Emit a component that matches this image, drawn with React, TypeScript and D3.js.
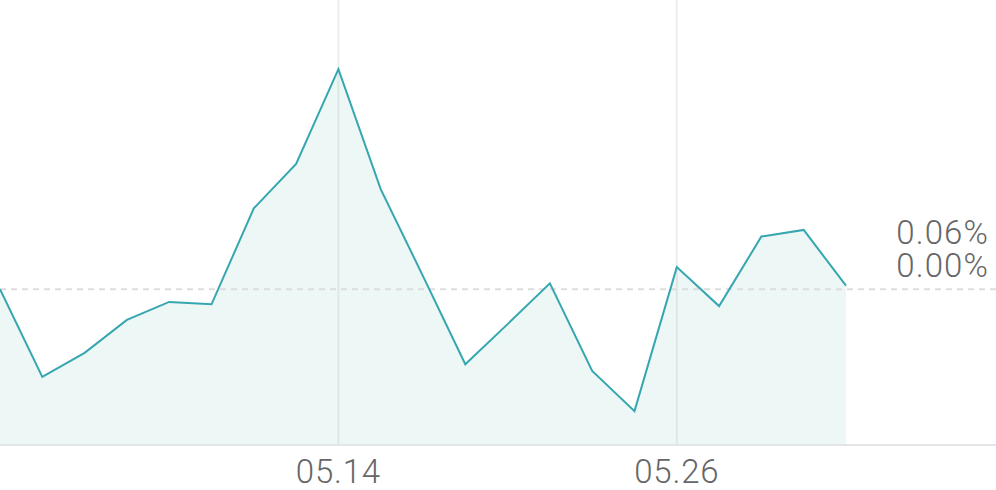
import React, { useEffect, useRef } from "react";
import * as d3 from "d3";

const dates = ["04.30","05.06","05.07","05.08","05.11","05.12","05.13","05.14","05.15","05.18","05.19","05.20","05.21","05.22","05.25","05.26","05.27","05.28","05.29","06.01","06.02"];
const categories = dates.map((_, i) => i);
const returns = [0, -1.46, -1.06, -0.51, -0.21, -0.25, 1.35, 2.09, 3.67, 1.67, 0.22, -1.25, -0.58, 0.1, -1.36, -2.03, 0.37, -0.28, 0.88, 0.99, 0.06];
const tickIndices = [8, 16];
const tickLabels = ["05.14", "05.26"];
const rightLabels = ["0.06%", "0.00%"];

const W = 996;
const H = 490;

export default function App() {
  const ref = useRef<SVGSVGElement>(null);
  useEffect(() => {
    const svg = d3.select(ref.current);
    svg.selectAll("*").remove();
    const x = d3.scaleLinear().domain([0, categories.length - 1]).range([0, 846]);
    const y = d3.scaleLinear().domain([-2.595, 4.822]).range([445, 0]);
    const font = "Roboto, 'Noto Sans', sans-serif";

    // vertical grid lines
    svg.selectAll(".grid").data(tickIndices).enter().append("line")
      .attr("x1", d => x(d)).attr("x2", d => x(d))
      .attr("y1", 0).attr("y2", 445)
      .attr("stroke", "#eeeeee").attr("stroke-width", 2);

    const area = d3.area<number>().x((_, i) => x(i)).y0(445).y1(d => y(d));
    svg.append("path").datum(returns).attr("d", area)
      .attr("fill", "#2aa198").attr("fill-opacity", 0.09);

    // zero dashed line
    svg.append("line").attr("x1", 0).attr("x2", W)
      .attr("y1", y(0)).attr("y2", y(0))
      .attr("stroke", "#dddddd").attr("stroke-width", 2).attr("stroke-dasharray", "6,5");

    const line = d3.line<number>().x((_, i) => x(i)).y(d => y(d));
    svg.append("path").datum(returns).attr("d", line)
      .attr("fill", "none").attr("stroke", "#36a6b0").attr("stroke-width", 2).attr("stroke-linejoin", "miter");

    // x axis line
    svg.append("line").attr("x1", 0).attr("x2", W).attr("y1", 445).attr("y2", 445)
      .attr("stroke", "#e3e6e6").attr("stroke-width", 2);

    svg.selectAll(".tick").data(tickIndices).enter().append("text")
      .attr("x", d => x(d)).attr("y", 482.5)
      .attr("text-anchor", "middle")
      .attr("font-family", font).attr("font-size", 33).attr("font-weight", 300)
      .attr("letter-spacing", 0.8)
      .attr("fill", "#666666")
      .text((_, i) => tickLabels[i]);

    svg.selectAll(".rl").data(rightLabels).enter().append("text")
      .attr("x", 989).attr("y", (_, i) => (i === 0 ? 243.5 : 276.5))
      .attr("text-anchor", "end")
      .attr("font-family", font).attr("font-size", 33).attr("font-weight", 300)
      .attr("letter-spacing", 1.1)
      .attr("fill", "#666666")
      .text(d => d);
  }, []);
  return (
    <div style={{ position: "fixed", left: 0, top: 0 }}>
      <svg ref={ref} width={W} height={H} style={{ display: "block", background: "#fff" }} />
    </div>
  );
}
